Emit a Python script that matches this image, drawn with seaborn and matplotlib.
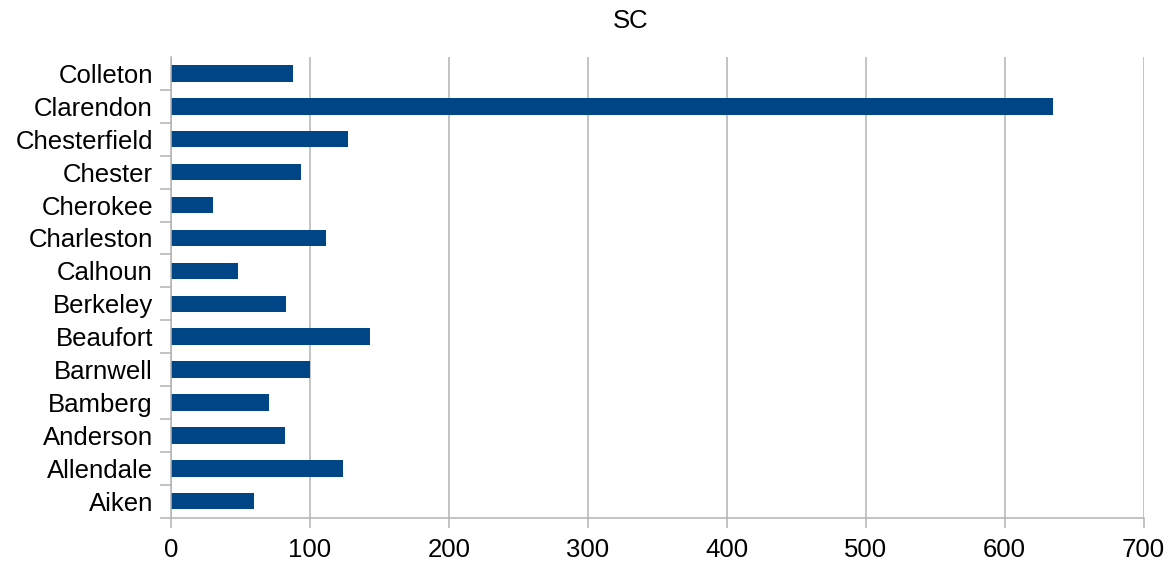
import matplotlib
matplotlib.use("Agg")
import matplotlib.pyplot as plt
import seaborn as sns
import pandas as pd
import numpy as np

counties = ["Colleton", "Clarendon", "Chesterfield", "Chester", "Cherokee", "Charleston",
            "Calhoun", "Berkeley", "Beaufort", "Barnwell", "Bamberg", "Anderson",
            "Allendale", "Aiken"]
values = [87.5, 635, 127.3, 93.5, 30, 111.3, 48, 82.7, 143.2, 100, 70.5, 82, 123.7, 59.7]
xticks = [0, 100, 200, 300, 400, 500, 600, 700]

df = pd.DataFrame({"county": counties, "value": values})

sns.set_style("white")
plt.rcParams['font.family'] = ['Liberation Sans', 'DejaVu Sans']
plt.rcParams['text.color'] = 'black'

W, H = 1169, 567
fig = plt.figure(figsize=(W / 100, H / 100), dpi=100)
ax = fig.add_axes([171 / W, 1 - 517.7 / H, (1143.5 - 171) / W, (517.7 - 57) / H])

sns.barplot(data=df, x="value", y="county", order=counties, orient="h",
            color="#004586", saturation=1, width=0.5, linewidth=0, ax=ax)

grid_c = "#b3b3b3"
ax.set_xlim(0, 700)
ax.set_ylim(len(counties) - 0.5, -0.5)
ax.set_xticks(xticks)
ax.set_xticklabels([str(t) for t in xticks])
ax.xaxis.grid(True, color=grid_c, linewidth=1.1)
ax.set_axisbelow(True)
ax.set_xlabel("")
ax.set_ylabel("")

for s in ["top", "right"]:
    ax.spines[s].set_visible(False)
for s in ["left", "bottom"]:
    ax.spines[s].set_color(grid_c)
    ax.spines[s].set_linewidth(1.1)

ax.tick_params(axis="x", direction="out", length=7.5, width=1.1, color=grid_c,
               pad=7, labelsize=18.5, labelcolor="black", bottom=True)
ax.tick_params(axis="y", which="major", length=0, pad=13, labelsize=18.5, labelcolor="black")
ax.set_yticks(np.arange(1, len(counties) + 1) - 0.5, minor=True)
ax.tick_params(axis="y", which="minor", direction="out", length=8, width=1.1, color=grid_c, left=True)

fig.text(631 / W, 1 - 21 / H, "SC", ha="center", va="center", fontsize=18.5, color="black")

fig.savefig("out.png", dpi=100)
